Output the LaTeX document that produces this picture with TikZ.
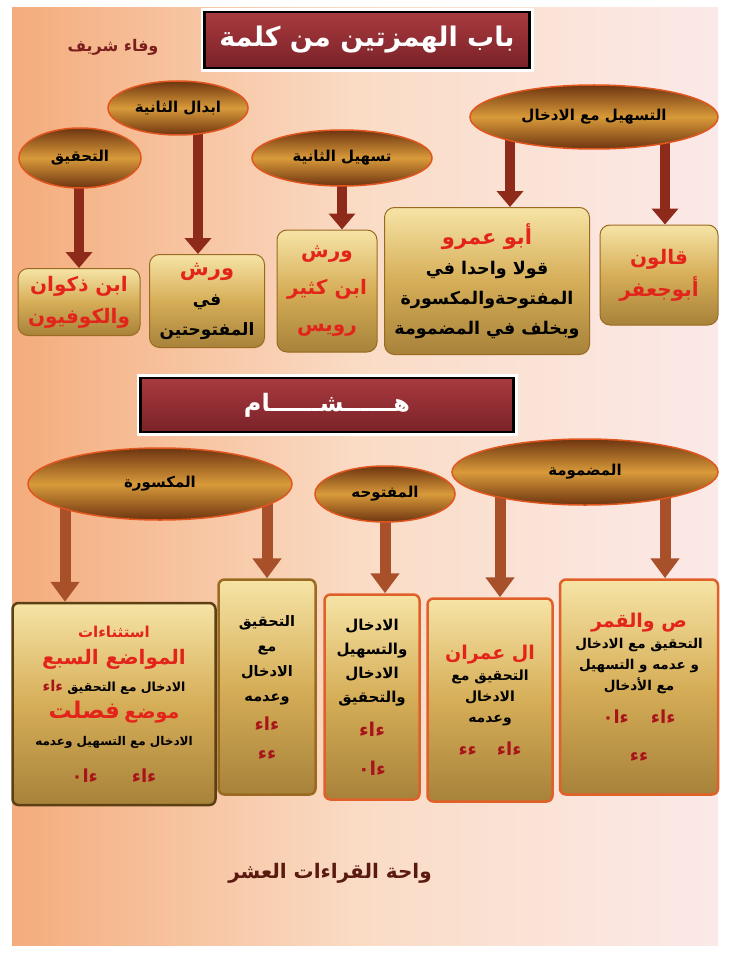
\documentclass[tikz,border=0pt]{standalone}
\usepackage{fontspec}
\usepackage{tikz}
\usetikzlibrary{positioning,calc,shapes.geometric,arrows.meta}
\newfontfamily\arabicfont[Script=Arabic]{DejaVu Sans}
\TeXXeTstate=1
\newcommand{\rl}[1]{\beginR#1\endR}
\newcommand{\fsz}[2]{\fontsize{#1}{#2}\selectfont}

\definecolor{bgOrange}{HTML}{F4AC7C}
\definecolor{bgLight}{HTML}{FADCC6}
\definecolor{bgPink}{HTML}{FBE9E8}
\definecolor{titleTop}{HTML}{A83A3E}
\definecolor{titleBot}{HTML}{7A2228}
\definecolor{ovalDark}{HTML}{6E3510}
\definecolor{ovalGold}{HTML}{D99A3A}
\definecolor{ovalRim}{HTML}{E0561E}
\definecolor{boxTop}{HTML}{F6E4A6}
\definecolor{boxMid}{HTML}{D6AE58}
\definecolor{boxBot}{HTML}{A7823A}
\definecolor{boxLine}{HTML}{9A6A20}
\definecolor{nameRed}{HTML}{E3241B}
\definecolor{hamzaRed}{HTML}{A8141A}
\definecolor{arrowRed}{HTML}{8E2A1A}
\definecolor{arrowBrown}{HTML}{A8502A}
\definecolor{frameOrange}{HTML}{E0602A}
\definecolor{signBrown}{HTML}{7A1E1E}
\definecolor{footBrown}{HTML}{5A1A10}

\pgfdeclarelayer{back}
\pgfdeclarelayer{links}
\pgfsetlayers{back,links,main}

\begin{document}
\begin{tikzpicture}[x=1pt,y=-1pt]
  \tikzstyle{titlebar}=[rectangle, draw=black, line width=2.5pt, top color=titleTop, bottom color=titleBot, text=white, preaction={draw=white, line width=8pt}]
  \tikzstyle{oval}=[ellipse, draw=ovalRim, line width=1.5pt, top color=ovalDark, bottom color=ovalDark, middle color=ovalGold, inner sep=0pt, font=\arabicfont\bfseries\fsz{15}{18}]
  \tikzstyle{goldbox}=[rectangle, rounded corners=10pt, draw=boxLine, line width=1pt, top color=boxTop, bottom color=boxBot, middle color=boxMid, align=center, inner sep=2pt]
  \tikzstyle{bevelbox}=[rectangle, rounded corners=6pt, draw=frameOrange, line width=2.5pt, top color=boxTop, bottom color=boxBot, middle color=boxMid, align=center, inner sep=2pt]
  \tikzstyle{linkTop}=[draw=arrowRed, line width=10pt, -{Triangle[width=26pt,length=16pt]}]
  \tikzstyle{linkLow}=[draw=arrowBrown, line width=11pt, -{Triangle[width=28pt,length=20pt]}]

  \useasboundingbox (0,0) rectangle (730,960);
  \begin{pgfonlayer}{back}
    \fill[white] (0,0) rectangle (730,960);
    \shade[left color=bgOrange, right color=bgPink, middle color=bgLight] (12,8) rectangle (718,945);
  \end{pgfonlayer}

  \node[titlebar, minimum width=325, minimum height=56, font=\arabicfont\bfseries\fsz{27}{30}] (title) at (367,40) {\rl{باب الهمزتين من كلمة}};
  \node[text=signBrown, font=\arabicfont\bfseries\fsz{16}{18}] (author) at (113,47) {\rl{وفاء شريف}};

  \node[oval, minimum width=122, minimum height=60] (ovTahqiq) at (80,158) {\rl{التحقيق}};
  \node[oval, minimum width=140, minimum height=54] (ovIbdal) at (178,108) {\rl{ابدال الثانية}};
  \node[oval, minimum width=180, minimum height=56] (ovTashil) at (342,158) {\rl{تسهيل الثانية}};
  \node[oval, minimum width=248, minimum height=64] (ovIdkhal) at (594,117) {\rl{التسهيل مع الادخال}};

  \node[goldbox, minimum width=122, minimum height=67, text=nameRed, font=\arabicfont\bfseries\fsz{20}{32}] (bxDhakwan) at (79,302) {\rl{ابن ذكوان}\\\rl{والكوفيون}};
  \node[goldbox, minimum width=115, minimum height=93, font=\arabicfont\bfseries\fsz{17}{30}] (bxWarsh) at (207,301) {{\color{nameRed}\fsz{21}{30}\rl{ورش}}\\\rl{في}\\\rl{المفتوحتين}};
  \node[goldbox, minimum width=100, minimum height=122, text=nameRed, font=\arabicfont\bfseries\fsz{20}{37}] (bxIbnKathir) at (327,291) {\rl{ورش}\\\rl{ابن كثير}\\\rl{رويس}};
  \node[goldbox, minimum width=205, minimum height=147, font=\arabicfont\bfseries\fsz{17.5}{30}] (bxAbuAmr) at (487,281) {{\color{nameRed}\fsz{21}{30}\rl{أبو عمرو}}\\\rl{قولا واحدا في}\\\rl{المفتوحةوالمكسورة}\\\rl{وبخلف في المضمومة}};
  \node[goldbox, minimum width=118, minimum height=100, text=nameRed, font=\arabicfont\bfseries\fsz{20}{32}] (bxQalun) at (659,275) {\rl{قالون}\\\rl{أبوجعفر}};

  \node[titlebar, minimum width=373, minimum height=54, font=\arabicfont\bfseries\fsz{24}{28}] (hisham) at (327,405) {\rl{هــــــشــــــام}};

  \node[oval, minimum width=264, minimum height=72] (ovKasr) at (160,484) {\rl{المكسورة}};
  \node[oval, minimum width=140, minimum height=56] (ovFath) at (385,494) {\rl{المفتوحه}};
  \node[oval, minimum width=266, minimum height=66] (ovDamm) at (585,472) {\rl{المضمومة}};

  \node[bevelbox, draw=boxLine!60!black, minimum width=203, minimum height=202, font=\arabicfont\bfseries\fsz{12.5}{27}] (bxSabc) at (114,704) {{\color{nameRed}\fsz{15}{27}\rl{استثناءات}}\\{\color{nameRed}\fsz{20}{27}\rl{المواضع السبع}}\\{\color{hamzaRed}\fsz{15}{27}\rl{ءاء}} \rl{الادخال مع التحقيق}\\{\color{nameRed}\fsz{23}{27}\rl{فصلت}} {\color{nameRed}\fsz{19}{27}\rl{موضع}}\\{\fsz{12}{27}\rl{الادخال مع التسهيل وعدمه}}\\[10pt]{\color{hamzaRed}\fsz{18}{27}\rl{ءاء\hspace{34pt}ءا٠}}};
  \node[bevelbox, draw=boxLine, minimum width=97, minimum height=215, font=\arabicfont\bfseries\fsz{14.5}{25}] (bxTahqiqMa) at (267,687) {\rl{التحقيق}\\\rl{مع}\\\rl{الادخال}\\\rl{وعدمه}\\[4pt]{\color{hamzaRed}\fsz{18}{29}\rl{ءاء}}\\[4pt]{\color{hamzaRed}\fsz{18}{29}\rl{ءء}}};
  \node[bevelbox, minimum width=95, minimum height=205, font=\arabicfont\bfseries\fsz{15}{24}] (bxIdkhalTahqiq) at (372,697) {\rl{الادخال}\\\rl{والتسهيل}\\\rl{الادخال}\\\rl{والتحقيق}\\[10pt]{\color{hamzaRed}\fsz{19}{24}\rl{ءاء}}\\[15pt]{\color{hamzaRed}\fsz{19}{24}\rl{ءا٠}}};
  \node[bevelbox, minimum width=125, minimum height=203, font=\arabicfont\bfseries\fsz{14}{21}] (bxImran) at (490,700) {{\color{nameRed}\fsz{19}{21}\rl{ال عمران}}\\\rl{التحقيق مع}\\\rl{الادخال}\\\rl{وعدمه}\\[12pt]{\color{hamzaRed}\fsz{18}{21}\rl{ءاء\hspace{20pt}ءء}}};
  \node[bevelbox, minimum width=158, minimum height=215, font=\arabicfont\bfseries\fsz{13.5}{21}] (bxSad) at (639,687) {{\color{nameRed}\fsz{19}{21}\rl{ص والقمر}}\\\rl{التحقيق مع الادخال}\\\rl{و عدمه و التسهيل}\\\rl{مع الأدخال}\\[12pt]{\color{hamzaRed}\fsz{18}{21}\rl{ءاء\hspace{22pt}ءا٠}}\\[17pt]{\color{hamzaRed}\fsz{18}{21}\rl{ءء}}};

  \node[text=footBrown, font=\arabicfont\bfseries\fsz{20}{24}] (footer) at (330,873) {\rl{واحة القراءات العشر}};

  \begin{pgfonlayer}{links}
    \draw[linkTop] (ovTahqiq.center -| bxDhakwan.north) -- (bxDhakwan.north);
    \draw[linkTop] ([xshift=-9pt]bxWarsh.north |- ovIbdal.center) -- ([xshift=-9pt]bxWarsh.north);
    \draw[linkTop] ([xshift=15pt]bxIbnKathir.north |- ovTashil.center) -- ([xshift=15pt]bxIbnKathir.north);
    \draw[linkTop] ([xshift=23pt]bxAbuAmr.north |- ovIdkhal.center) -- ([xshift=23pt]bxAbuAmr.north);
    \draw[linkTop] ([xshift=6pt]bxQalun.north |- ovIdkhal.center) -- ([xshift=6pt]bxQalun.north);
    \draw[linkLow] ([xshift=-49pt]bxSabc.north |- ovKasr.center) -- ([xshift=-49pt]bxSabc.north);
    \draw[linkLow] (ovKasr.center -| bxTahqiqMa.north) -- (bxTahqiqMa.north);
    \draw[linkLow] ([xshift=13pt]bxIdkhalTahqiq.north |- ovFath.center) -- ([xshift=13pt]bxIdkhalTahqiq.north);
    \draw[linkLow] ([xshift=10pt]bxImran.north |- ovDamm.center) -- ([xshift=10pt]bxImran.north);
    \draw[linkLow] ([xshift=26pt]bxSad.north |- ovDamm.center) -- ([xshift=26pt]bxSad.north);
  \end{pgfonlayer}
\end{tikzpicture}
\end{document}
